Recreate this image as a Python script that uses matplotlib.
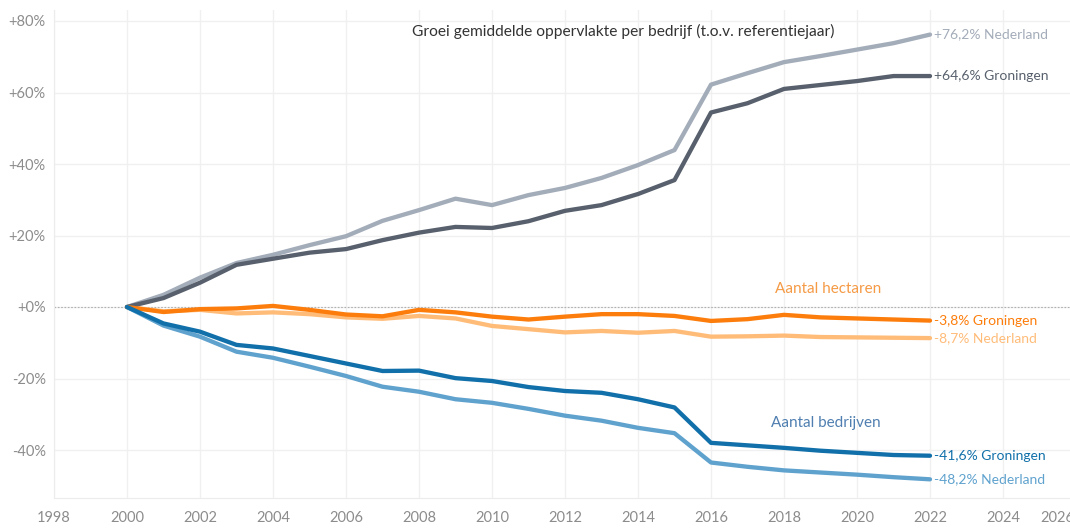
import matplotlib.pyplot as plt
from matplotlib.ticker import FuncFormatter, MultipleLocator
from matplotlib.transforms import ScaledTranslation

plt.rcParams['font.family'] = ['Lato', 'DejaVu Sans']

# ------------------------ Data ------------------------
years = list(range(2000, 2023))

opp_nl = [0, 3.4, 8.2, 12.3, 14.6, 17.3, 19.8, 24.1, 27.1, 30.3, 28.5, 31.3, 33.3,
          36.1, 39.7, 43.9, 62.2, 65.4, 68.5, 70.2, 72.0, 73.8, 76.2]
opp_gr = [0, 2.5, 6.8, 11.8, 13.5, 15.2, 16.2, 18.7, 20.8, 22.4, 22.1, 24.0, 26.9,
          28.5, 31.6, 35.5, 54.4, 57.0, 61.0, 62.1, 63.2, 64.6, 64.6]

ha_gr = [0, -1.4, -0.6, -0.4, 0.3, -0.8, -2.1, -2.6, -0.8, -1.5, -2.7, -3.5, -2.7,
         -2.0, -2.0, -2.5, -3.9, -3.4, -2.2, -2.9, -3.2, -3.5, -3.8]
ha_nl = [0, -1.2, -0.8, -1.8, -1.5, -2.0, -2.9, -3.3, -2.5, -3.2, -5.3, -6.2, -7.1,
         -6.7, -7.2, -6.7, -8.3, -8.2, -8.0, -8.4, -8.5, -8.6, -8.7]

bedr_gr = [0, -4.6, -6.9, -10.6, -11.6, -13.7, -15.8, -17.9, -17.8, -19.9, -20.7,
           -22.4, -23.5, -24.0, -25.8, -28.1, -38.0, -38.7, -39.4, -40.2, -40.8,
           -41.4, -41.6]
bedr_nl = [0, -5.2, -8.3, -12.5, -14.2, -16.7, -19.3, -22.3, -23.7, -25.8, -26.8,
           -28.5, -30.4, -31.8, -33.8, -35.3, -43.5, -44.7, -45.7, -46.3, -46.9,
           -47.6, -48.2]

end_labels = {
    'opp_nl': '+76,2% Nederland',
    'opp_gr': '+64,6% Groningen',
    'ha_gr': '-3,8% Groningen',
    'ha_nl': '-8,7% Nederland',
    'bedr_gr': '-41,6% Groningen',
    'bedr_nl': '-48,2% Nederland',
}

# Tableau color blind palette
c_gray_l = '#a3acb9'
c_gray_d = '#57606c'
c_orange = '#fc7d0b'
c_orange_l = '#ffbc79'
c_blue = '#1170aa'
c_blue_l = '#5fa2ce'

# ------------------------ Figure ------------------------
fig = plt.figure(figsize=(10.7, 5.3), dpi=100)
ax = fig.add_axes([54 / 1070, 32 / 530, (1090 - 54) / 1070, (498 - 10) / 530])

ax.set_xlim(1998, 1998 + (1090 - 54) / 36.5)
ax.set_ylim((307 - 498) * 20 / 71.5, (307 - 10) * 20 / 71.5)

ax.xaxis.set_major_locator(MultipleLocator(2))
ax.yaxis.set_major_locator(MultipleLocator(20))
ax.yaxis.set_major_formatter(FuncFormatter(lambda v, p: f'{v:+.0f}%'))

ax.grid(True, color='#f0f0f0', linewidth=1)
ax.set_axisbelow(True)
for s in ['top', 'right']:
    ax.spines[s].set_visible(False)
for s in ['left', 'bottom']:
    ax.spines[s].set_color('#ececec')
ax.tick_params(axis='both', length=0, colors='#8c8c8c', labelsize=10.5)
ax.tick_params(axis='y', pad=6)
ax.tick_params(axis='x', pad=9)

ax.axhline(0, color='#b0b0b0', linewidth=0.8, linestyle=(0, (1.5, 1.5)), zorder=1)

lw = 3.1
ax.plot(years, opp_nl, color=c_gray_l, lw=lw, solid_capstyle='round', zorder=3)
ax.plot(years, opp_gr, color=c_gray_d, lw=lw, solid_capstyle='round', zorder=4)
ax.plot(years, ha_nl, color=c_orange_l, lw=lw, solid_capstyle='round', zorder=3)
ax.plot(years, ha_gr, color=c_orange, lw=lw, solid_capstyle='round', zorder=4)
ax.plot(years, bedr_nl, color=c_blue_l, lw=lw, solid_capstyle='round', zorder=3)
ax.plot(years, bedr_gr, color=c_blue, lw=lw, solid_capstyle='round', zorder=4)

# end labels
lx = years[-1] + 0.12
fs = 10
ax.text(lx, opp_nl[-1], end_labels['opp_nl'], color=c_gray_l, fontsize=fs, va='center')
ax.text(lx, opp_gr[-1], end_labels['opp_gr'], color=c_gray_d, fontsize=fs, va='center')
ax.text(lx, ha_gr[-1], end_labels['ha_gr'], color=c_orange, fontsize=fs, va='center')
ax.text(lx, ha_nl[-1], end_labels['ha_nl'], color=c_orange_l, fontsize=fs, va='center')
ax.text(lx, bedr_gr[-1], end_labels['bedr_gr'], color=c_blue, fontsize=fs, va='center')
ax.text(lx, bedr_nl[-1], end_labels['bedr_nl'], color=c_blue_l, fontsize=fs, va='center')

# group labels
ax.text(2019.2, 5.0, 'Aantal hectaren', color='#f59a45', fontsize=11, ha='center', va='center')
ax.text(2019.15, -32.5, 'Aantal bedrijven', color='#4f7fb0', fontsize=11, ha='center', va='center')
ax.text(2013.6, 77.2, 'Groei gemiddelde oppervlakte per bedrijf (t.o.v. referentiejaar)',
        color='#333333', fontsize=11.2, ha='center', va='center')

# last tick label shifted inward like in the original
fig.canvas.draw()
for lab in ax.get_xticklabels():
    if lab.get_text() == '2026':
        lab.set_transform(lab.get_transform() + ScaledTranslation(-0.19, 0, fig.dpi_scale_trans))

fig.savefig('out.png', dpi=100)
